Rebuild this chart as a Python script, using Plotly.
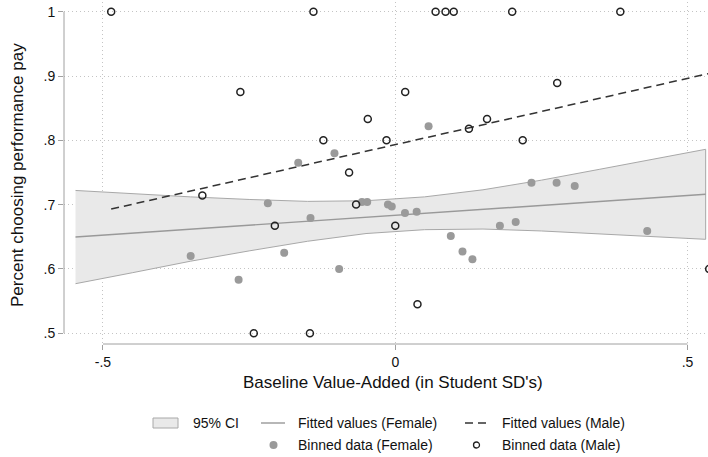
import plotly.graph_objects as go

# ---- data ----
female_x = [-0.166, -0.104, 0.057, -0.218, -0.350, -0.268, -0.145, -0.190, -0.096, -0.057,
            -0.048, -0.0125, -0.006, 0.0166, 0.0366, 0.095, 0.115, 0.132, 0.233, 0.276,
            0.307, 0.179, 0.206, 0.431]
female_y = [0.765, 0.780, 0.822, 0.702, 0.620, 0.583, 0.679, 0.625, 0.600, 0.704,
            0.704, 0.700, 0.697, 0.687, 0.689, 0.651, 0.627, 0.615, 0.734, 0.734,
            0.729, 0.667, 0.673, 0.659]

male_x = [-0.486, -0.140, 0.069, 0.086, 0.100, 0.200, 0.385, 0.277, -0.265, 0.017,
          -0.047, 0.157, 0.126, -0.123, -0.015, 0.218, -0.079, -0.330, -0.067, -0.206,
          0.000, 0.537, 0.038, -0.242, -0.146]
male_y = [1, 1, 1, 1, 1, 1, 1, 0.889, 0.875, 0.875,
          0.833, 0.833, 0.818, 0.8, 0.8, 0.8, 0.75, 0.714, 0.7, 0.667,
          0.667, 0.6, 0.545, 0.5, 0.5]

ci_x = [-0.547, -0.45, -0.35, -0.25, -0.15, -0.05, 0.05, 0.15, 0.25, 0.35, 0.45, 0.531]
ci_upper = [0.722, 0.717, 0.712, 0.708, 0.705, 0.706, 0.712, 0.723, 0.738, 0.755, 0.772, 0.786]
ci_lower = [0.577, 0.594, 0.612, 0.628, 0.643, 0.655, 0.661, 0.662, 0.659, 0.655, 0.650, 0.646]

fit_female_x = [-0.547, 0.531]
fit_female_y = [0.6496, 0.716]
fit_male_x = [-0.486, 0.537]
fit_male_y = [0.693, 0.904]

x_tickvals = [-0.5, 0, 0.5]
x_ticktext = ["-.5", "0", ".5"]
y_tickvals = [0.5, 0.6, 0.7, 0.8, 0.9, 1.0]
y_ticktext = [".5", ".6", ".7", ".8", ".9", "1"]

legend_labels = ["95% CI", "Fitted values (Female)", "Fitted values (Male)",
                 "Binned data (Female)", "Binned data (Male)"]

FONT = "Liberation Sans, Arial, Helvetica, sans-serif"
TXT = "#111111"
AX = "#a0a0a0"
GRID = "#c4c4c4"

fig = go.Figure()

fig.add_trace(go.Scatter(
    x=ci_x + ci_x[::-1], y=ci_upper + ci_lower[::-1],
    fill="toself", fillcolor="#e9e9e9", mode="lines",
    line=dict(color="#a8a8a8", width=1), hoverinfo="skip", showlegend=False))
fig.add_trace(go.Scatter(
    x=fit_female_x, y=fit_female_y, mode="lines",
    line=dict(color="#999999", width=1.4), showlegend=False))
fig.add_trace(go.Scatter(
    x=fit_male_x, y=fit_male_y, mode="lines",
    line=dict(color="#333333", width=1.5, dash="8px,5px"), showlegend=False))
fig.add_trace(go.Scatter(
    x=female_x, y=female_y, mode="markers",
    marker=dict(color="#9a9a9a", size=8, line=dict(width=0)), showlegend=False))
fig.add_trace(go.Scatter(
    x=male_x, y=male_y, mode="markers",
    marker=dict(symbol="circle-open", color="#222222", size=7, line=dict(width=1.5)),
    showlegend=False))

W, H = 708, 457
L, R, T, B = 64, 0, 2, 113
pw, ph = W - L - R, H - T - B


def px(xp):
    return (xp - L) / pw


def py(yp):
    return (H - B - yp) / ph


fig.update_layout(
    width=W, height=H,
    margin=dict(l=L, r=R, t=T, b=B),
    paper_bgcolor="white", plot_bgcolor="white",
    font=dict(family=FONT, size=14, color=TXT),
    hovermode=False,
    xaxis=dict(range=[-0.5667, 0.535], tickvals=x_tickvals, ticktext=x_ticktext,
               showgrid=True, gridcolor=GRID, griddash="1px,3px", gridwidth=1,
               zeroline=False, showline=False, ticks="outside", ticklen=5,
               tickcolor=AX, tickwidth=1, tickfont=dict(size=14, color=TXT)),
    yaxis=dict(range=[0.4832, 1.0151], tickvals=y_tickvals, ticktext=y_ticktext,
               showgrid=True, gridcolor=GRID, griddash="1px,3px", gridwidth=1,
               zeroline=False, showline=False, ticks="outside", ticklen=5,
               tickcolor=AX, tickwidth=1, tickangle=0, tickfont=dict(size=14, color=TXT)),
)

shapes = [
    dict(type="line", xref="paper", yref="y", x0=0, x1=0, y0=0.5, y1=1.0,
         line=dict(color=AX, width=1)),
    dict(type="line", xref="x", yref="paper", x0=-0.5, x1=0.5, y0=0, y1=0,
         line=dict(color=AX, width=1)),
]
annotations = [
    dict(text="Baseline Value-Added (in Student SD's)", xref="paper", yref="paper",
         x=px(393), y=py(383), showarrow=False, font=dict(size=17, color=TXT),
         xanchor="center", yanchor="middle"),
    dict(text="Percent choosing performance pay", xref="paper", yref="paper",
         x=px(18), y=py(175), showarrow=False, textangle=-90,
         font=dict(size=17, color=TXT), xanchor="center", yanchor="middle"),
]

row1, row2 = 423, 445
# legend: CI box
shapes.append(dict(type="rect", xref="paper", yref="paper",
                   x0=px(153), x1=px(178), y0=py(row1 - 5), y1=py(row1 + 5),
                   fillcolor="#e9e9e9", line=dict(color="#a8a8a8", width=1)))
# female fit line
shapes.append(dict(type="line", xref="paper", yref="paper",
                   x0=px(261), x1=px(285), y0=py(row1), y1=py(row1),
                   line=dict(color="#999999", width=1.4)))
# male fit dashed
shapes.append(dict(type="line", xref="paper", yref="paper",
                   x0=px(465), x1=px(489), y0=py(row1), y1=py(row1),
                   line=dict(color="#333333", width=1.5, dash="8px,5px")))
# female dot
shapes.append(dict(type="circle", xref="paper", yref="paper",
                   x0=px(269.5), x1=px(277.5), y0=py(row2 - 4), y1=py(row2 + 4),
                   fillcolor="#9a9a9a", line=dict(width=0)))
# male hollow
shapes.append(dict(type="circle", xref="paper", yref="paper",
                   x0=px(473.5), x1=px(479.5), y0=py(row2 - 3), y1=py(row2 + 3),
                   fillcolor="rgba(0,0,0,0)", line=dict(color="#222222", width=1.3)))

leg_pos = [(191, row1), (296, row1), (500, row1), (296, row2), (500, row2)]
for lab, (lx, ly) in zip(legend_labels, leg_pos):
    annotations.append(dict(text=lab, xref="paper", yref="paper", x=px(lx), y=py(ly),
                            showarrow=False, xanchor="left", yanchor="middle",
                            font=dict(size=14, color=TXT)))

fig.update_layout(shapes=shapes, annotations=annotations)
fig.write_html("out.html", config={"displayModeBar": False, "staticPlot": True},
               post_script="document.body.style.margin='0';document.body.style.overflow='hidden';")
